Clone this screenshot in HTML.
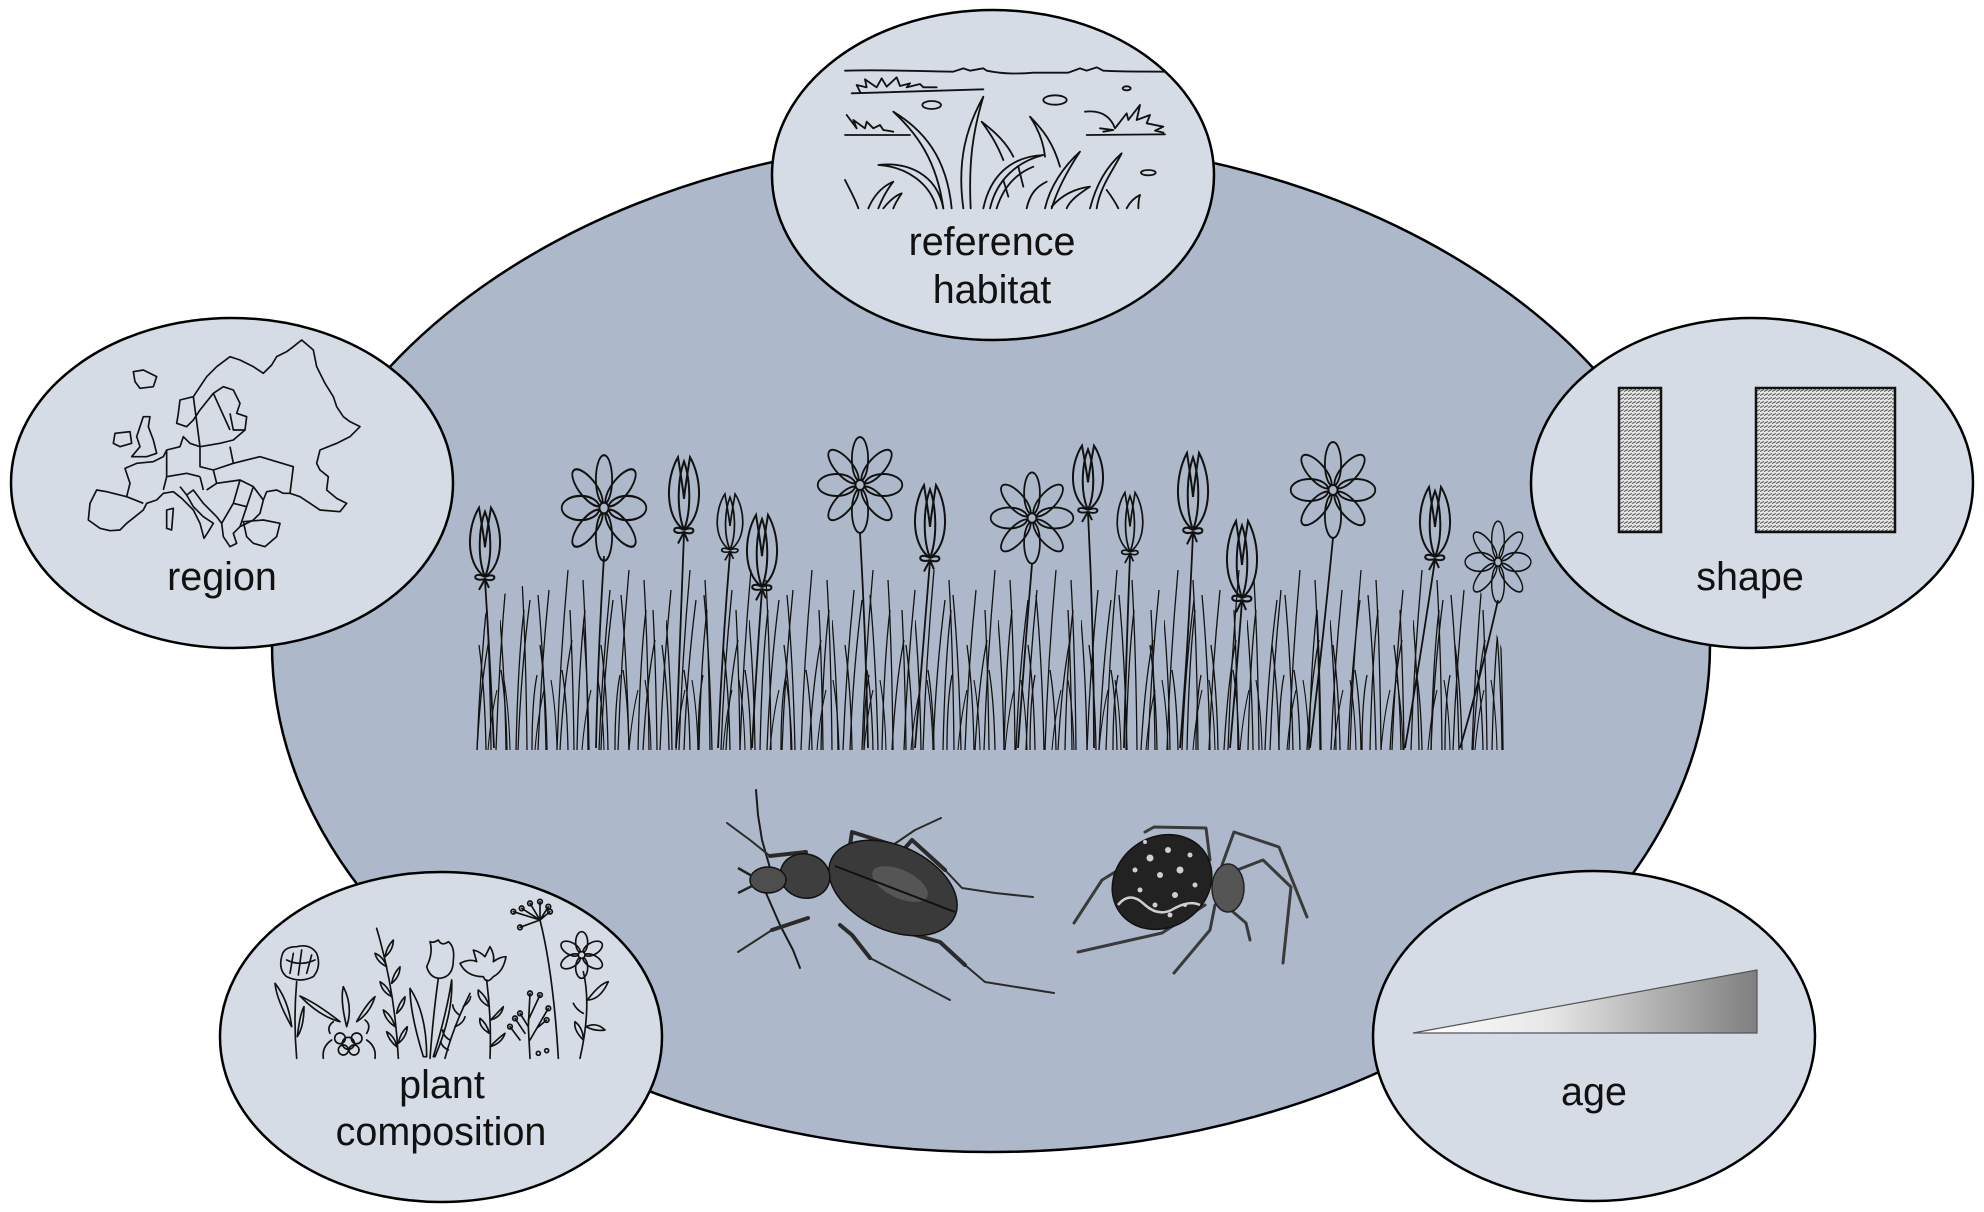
<!DOCTYPE html>
<html><head><meta charset="utf-8"><style>
html,body{margin:0;padding:0;background:#fff}
svg{display:block}
text{font-family:"Liberation Sans",Arial,sans-serif;font-size:39.5px;fill:#111}
</style></head><body>
<svg width="1984" height="1212" viewBox="0 0 1984 1212" xmlns="http://www.w3.org/2000/svg">
<defs>
<pattern id="gA" patternUnits="userSpaceOnUse" x="474" y="540" width="61" height="212">
<g fill="none" stroke="#111" stroke-width="1.3">
<path d="M3 210 Q6 130 14 50"/><path d="M12 210 Q11 150 5 105"/><path d="M22 210 Q25 120 33 30"/><path d="M33 210 Q32 160 27 130"/><path d="M42 210 Q44 120 50 70"/><path d="M53 210 Q52 110 48 40"/>
</g></pattern>
<pattern id="gB" patternUnits="userSpaceOnUse" x="500" y="540" width="83" height="212">
<g fill="none" stroke="#111" stroke-width="1.3">
<path d="M6 210 Q5 140 0 80"/><path d="M18 210 Q21 130 30 60"/><path d="M32 210 Q32 160 37 135"/><path d="M46 210 Q44 120 38 55"/><path d="M60 210 Q64 140 72 100"/><path d="M74 210 Q73 130 70 70"/>
</g></pattern>
<pattern id="gC" patternUnits="userSpaceOnUse" x="480" y="540" width="47" height="212">
<g fill="none" stroke="#111" stroke-width="1.1">
<path d="M8 210 Q11 175 17 150"/><path d="M30 210 Q29 170 24 140"/>
</g></pattern>
<clipPath id="gclip"><polygon points="470,760 470,660 490,600 560,570 640,550 1000,540 1400,548 1480,590 1506,660 1506,760"/></clipPath>
<pattern id="hatch" patternUnits="userSpaceOnUse" width="4" height="4">
<rect width="4" height="4" fill="#e4e4e4"/><path d="M0 3.5 L4 1.5" stroke="#555" stroke-width="1"/>
</pattern>
<linearGradient id="ageg" x1="1413" y1="0" x2="1757" y2="0" gradientUnits="userSpaceOnUse">
<stop offset="0" stop-color="#ffffff"/><stop offset="0.4" stop-color="#e6e6e6"/><stop offset="1" stop-color="#7f7f7f"/>
</linearGradient>
<g id="tulip" fill="none" stroke="#111" stroke-width="2">
<path d="M0 0 C-20 -14 -18 -50 -6 -70 C-3 -52 -1 -40 0 -30"/>
<path d="M0 0 C20 -14 18 -50 6 -70 C3 -52 1 -40 0 -30"/>
<path d="M0 0 C-8 -20 -6 -50 0 -66 C6 -50 8 -20 0 0"/>
<path d="M0 0 C-12 -7 -14 6 0 2 C12 7 13 -6 0 0"/>
<path d="M0 2 L-6 13 M0 2 L4 11"/>
</g>
<g id="daisy" fill="none" stroke="#111" stroke-width="2">
<ellipse cx="0" cy="-26" rx="9" ry="22"/>
<ellipse cx="0" cy="-26" rx="9" ry="22" transform="rotate(45)"/>
<ellipse cx="0" cy="-26" rx="11" ry="21" transform="rotate(90)"/>
<ellipse cx="0" cy="-26" rx="9" ry="22" transform="rotate(135)"/>
<ellipse cx="0" cy="-26" rx="9" ry="22" transform="rotate(180)"/>
<ellipse cx="0" cy="-26" rx="9" ry="22" transform="rotate(225)"/>
<ellipse cx="0" cy="-26" rx="11" ry="21" transform="rotate(270)"/>
<ellipse cx="0" cy="-26" rx="9" ry="22" transform="rotate(315)"/>
<circle cx="0" cy="0" r="5" fill="#adb9ca"/>
</g>
</defs>

<rect width="1984" height="1212" fill="#fff"/>

<ellipse cx="991" cy="645" rx="719" ry="507" fill="#ADB9CA" stroke="#000" stroke-width="2.5"/>

<g clip-path="url(#gclip)">
<rect x="470" y="540" width="1036" height="214" fill="url(#gA)"/>
<rect x="470" y="540" width="1036" height="214" fill="url(#gB)"/>
<rect x="470" y="540" width="1036" height="214" fill="url(#gC)"/>
</g>

<g fill="none" stroke="#111" stroke-width="1.8">
<path d="M485 580 Q490 660 494 748"/>
<path d="M604 556 Q598 650 596 748"/>
<path d="M684 533 Q680 640 676 748"/>
<path d="M730 553 Q722 650 718 748"/>
<path d="M762 590 Q756 670 752 748"/>
<path d="M860 533 Q866 640 868 748"/>
<path d="M930 561 Q922 660 915 748"/>
<path d="M1032 564 Q1024 660 1018 748"/>
<path d="M1088 513 Q1094 630 1094 748"/>
<path d="M1130 555 Q1126 660 1124 748"/>
<path d="M1193 533 Q1188 650 1180 748"/>
<path d="M1242 601 Q1236 680 1230 748"/>
<path d="M1333 538 Q1322 650 1310 748"/>
<path d="M1435 560 Q1420 660 1405 748"/>
<path d="M1498 600 Q1480 680 1460 748"/>
</g>

<use href="#tulip" transform="translate(485,577) scale(1,0.99)"/>
<use href="#tulip" transform="translate(684,530) scale(1,1.04)"/>
<use href="#tulip" transform="translate(730,550) scale(0.85,0.8)"/>
<use href="#tulip" transform="translate(762,587) scale(1,1.03)"/>
<use href="#tulip" transform="translate(930,558) scale(1,1.04)"/>
<use href="#tulip" transform="translate(1088,510) scale(1,0.92)"/>
<use href="#tulip" transform="translate(1130,552) scale(0.85,0.85)"/>
<use href="#tulip" transform="translate(1193,530) scale(1,1.1)"/>
<use href="#tulip" transform="translate(1242,598) scale(1,1.1)"/>
<use href="#tulip" transform="translate(1435,557) scale(1,1)"/>
<use href="#daisy" transform="translate(604,508) scale(0.9,1.1)"/>
<use href="#daisy" transform="translate(860,485) scale(0.9,1.0)"/>
<use href="#daisy" transform="translate(1032,518) scale(0.88,0.95)"/>
<use href="#daisy" transform="translate(1333,490) scale(0.9,1.0)"/>
<use href="#daisy" transform="translate(1498,562) scale(0.7,0.85)"/>

<!-- beetle -->
<g stroke-linecap="round" stroke-linejoin="round" fill="none">
<g stroke="#1a1a1a" stroke-width="2">
<path d="M770 868 L762 840 L758 815 L756 790"/>
<path d="M766 893 L780 925 L793 950 L800 968"/>
</g>
<g stroke="#2a2a2a" stroke-width="4">
<path d="M806 852 L770 856"/><path d="M850 845 L852 832 L893 845"/><path d="M905 848 L912 840 L945 870"/>
<path d="M808 918 L772 930"/><path d="M840 925 L852 935 L870 958"/><path d="M880 925 L940 942 L965 965"/>
</g>
<g stroke="#2a2a2a" stroke-width="2">
<path d="M770 856 L750 840 L727 823"/><path d="M893 845 L915 830 L941 818"/><path d="M945 870 L962 888 L995 893 L1033 897"/>
<path d="M772 930 L738 952"/><path d="M870 958 L893 970 L950 1000"/><path d="M965 965 L985 982 L1054 993"/>
</g>
</g>
<g stroke="#111" stroke-width="1.5">
<ellipse cx="893" cy="888" rx="68" ry="42" transform="rotate(25 893 888)" fill="#3a3a3a"/>
<ellipse cx="805" cy="876" rx="25" ry="22" transform="rotate(15 805 876)" fill="#3e3e3e"/>
<ellipse cx="768" cy="880" rx="18" ry="13" fill="#4e4e4e"/>
</g>
<ellipse cx="900" cy="884" rx="30" ry="14" transform="rotate(25 900 884)" fill="#707070" opacity="0.5"/>
<path d="M835 866 L955 912" stroke="#111" stroke-width="2" fill="none"/>
<path d="M752 876 L738 868 M752 886 L738 893" stroke="#222" stroke-width="2.5" fill="none"/>

<!-- spider -->
<g stroke="#3a3a3a" stroke-width="3" fill="none" stroke-linecap="round" stroke-linejoin="round">
<path d="M1210 860 L1206 828 L1154 827 L1145 832"/>
<path d="M1222 865 L1234 832 L1279 847 L1307 917"/>
<path d="M1232 872 L1263 860 L1291 887 L1283 963"/>
<path d="M1225 905 L1246 923 L1250 940"/>
<path d="M1215 905 L1210 930 L1174 973"/>
<path d="M1205 905 L1162 933 L1078 952"/>
<path d="M1138 858 L1102 880 L1074 923"/>
</g>
<ellipse cx="1228" cy="888" rx="16" ry="24" fill="#555" stroke="#222" stroke-width="1.5"/>
<ellipse cx="1162" cy="882" rx="52" ry="45" transform="rotate(-35 1162 882)" fill="#222" stroke="#111" stroke-width="1.5"/>
<g fill="#cfcfcf">
<circle cx="1150" cy="858" r="3.5"/><circle cx="1168" cy="850" r="3"/><circle cx="1180" cy="870" r="3.5"/><circle cx="1160" cy="875" r="3"/>
<circle cx="1140" cy="890" r="2.5"/><circle cx="1175" cy="895" r="3"/><circle cx="1190" cy="855" r="2.5"/><circle cx="1155" cy="905" r="2.5"/>
<circle cx="1195" cy="885" r="2.5"/><circle cx="1135" cy="870" r="2.5"/><circle cx="1170" cy="915" r="2.5"/><circle cx="1185" cy="905" r="2"/><circle cx="1145" cy="842" r="2"/>
</g>
<path d="M1118 905 Q1130 890 1145 905 Q1160 918 1175 908 Q1190 900 1200 905" stroke="#cfcfcf" stroke-width="2.5" fill="none"/>

<ellipse cx="993" cy="175" rx="221" ry="165" fill="#D6DCE5" stroke="#000" stroke-width="2.5"/>
<ellipse cx="232" cy="483" rx="221" ry="165" fill="#D6DCE5" stroke="#000" stroke-width="2.5"/>
<ellipse cx="1752" cy="483" rx="221" ry="165" fill="#D6DCE5" stroke="#000" stroke-width="2.5"/>
<ellipse cx="441" cy="1037" rx="221" ry="165" fill="#D6DCE5" stroke="#000" stroke-width="2.5"/>
<ellipse cx="1594" cy="1036" rx="221" ry="165" fill="#D6DCE5" stroke="#000" stroke-width="2.5"/>

<g transform="translate(750,0) scale(0.33333)" fill="none" stroke="#111" stroke-width="5.5" stroke-linejoin="round" stroke-linecap="round">
<path d="M285 212 C400 208 500 214 610 215 L640 205 L660 212 L700 205 L710 212 C760 222 800 222 850 218 L955 218 L990 205 L1010 212 L1040 202 L1060 212 C1120 215 1180 215 1245 215"/>
<path d="M305 280 L700 268"/>
<path d="M330 275 L320 255 L350 262 L345 238 L380 262 L395 235 L410 260 L440 232 L450 258 L480 250 L470 262 L510 252 L520 262 L560 262"/>
<path d="M285 405 L480 405"/>
<path d="M290 345 L320 385 L310 360 L345 385 L350 365 L370 385 L390 375 L400 390 L430 395"/>
<path d="M1010 405 L1245 403"/>
<path d="M1005 335 C1050 330 1080 345 1095 385 L1130 340 L1135 360 L1170 315 L1160 360 L1200 345 L1190 370 L1240 380 L1215 392 L1240 398"/>
<path d="M1050 385 L1090 390 L1060 395"/>
<ellipse cx="545" cy="315" rx="28" ry="12"/><ellipse cx="915" cy="300" rx="35" ry="14"/><ellipse cx="1130" cy="265" rx="12" ry="6"/><ellipse cx="1195" cy="518" rx="22" ry="8"/>
<path d="M560 625 C540 550 470 500 385 495 C470 485 560 520 580 625"/>
<path d="M580 625 C560 480 500 400 430 335 C520 390 590 470 605 625"/>
<path d="M640 625 C620 480 650 380 700 290 C670 390 655 480 662 625"/>
<path d="M760 480 C740 430 720 400 695 365 C740 400 770 430 790 470"/>
<path d="M700 625 C720 530 780 470 880 465 C800 485 740 540 720 625"/>
<path d="M760 540 L775 590 M805 500 L820 560"/>
<path d="M885 470 C880 420 860 380 840 350 C880 390 910 430 930 500"/>
<path d="M885 625 C900 560 940 500 990 455 C960 500 925 560 905 625"/>
<path d="M1020 625 C1040 550 1070 500 1115 460 C1090 510 1050 560 1040 625"/>
<path d="M905 620 C940 580 980 565 1020 560 C990 580 960 600 950 625"/>
<path d="M285 540 C300 570 315 595 325 625"/>
<path d="M355 625 C370 590 395 560 430 545 C410 570 395 600 385 625"/>
<path d="M400 625 C420 600 440 585 455 580 C445 595 435 610 430 625"/>
<path d="M1070 570 C1085 590 1095 605 1105 625"/>
<path d="M1130 625 C1140 605 1155 592 1170 585 C1165 600 1165 615 1165 625"/>
<path d="M830 625 C840 580 860 560 890 545"/>
<path d="M740 625 C760 560 800 520 850 500"/>
</g>

<g transform="translate(0,290) scale(0.33333)" fill="none" stroke="#111" stroke-width="5" stroke-linejoin="round">
<path d="M300 715 L330 722 L360 720 L380 700 L405 680 L430 660 L440 640 L470 630 L490 610 L520 605 L545 625 L580 660 L600 700 L612 745 L625 725 L640 700 L610 680 L580 650 L560 615 L580 600 L610 640 L650 680 L665 700 L670 740 L690 770 L710 760 L700 730 L720 710 L740 700 L760 690 L780 670 L790 630 L800 605 L830 600 L850 610 L870 610 L900 620 L930 640 L960 660 L1020 665 L1040 640 L1010 625 L980 600 L985 560 L960 540 L950 520 L960 480 L1010 460 L1050 440 L1080 410 L1050 395 L1030 380 L1010 350 L1000 320 L975 280 L950 230 L940 180 L905 150 L880 170 L860 185 L830 200 L815 225 L800 240 L790 250 L760 230 L720 210 L690 200 L650 230 L620 260 L600 290 L580 320 L540 330 L535 370 L530 400 L560 410 L580 390 L600 360 L640 310 L670 290 L700 300 L720 340 L710 370 L740 380 L735 420 L700 450 L660 460 L600 470 L570 460 L550 440 L540 470 L500 480 L490 500 L460 515 L410 520 L375 535 L390 580 L380 620 L320 605 L290 600 L270 640 L265 690 Z"/>
<path d="M430 380 L450 380 L445 410 L460 450 L470 490 L440 500 L395 500 L420 470 L410 440 L420 410 Z"/>
<path d="M345 430 L390 425 L395 460 L360 470 L340 460 Z"/>
<path d="M400 245 L430 240 L470 260 L460 290 L420 295 L405 275 Z"/>
<path d="M500 660 L520 655 L515 720 L500 715 Z"/>
<path d="M730 695 L790 690 L840 700 L830 740 L795 770 L760 760 L740 740 Z"/>
<path d="M380 620 L430 640 M500 480 L500 560 L490 600 M500 560 L560 550 L600 560 M600 470 L600 530 L640 540 L700 520 L690 470 M700 520 L780 500 L880 530 L870 610 M640 540 L650 580 L620 600 M650 580 L720 570 L760 590 L790 630 M720 570 L700 640 L665 700 M760 590 L740 650 L720 710 M600 560 L610 600 M690 370 L700 420 L735 420 M640 310 L690 420 M580 320 L600 470 M540 590 L560 615 M700 640 L740 650"/>
</g>

<rect x="1619" y="388" width="42" height="144" fill="url(#hatch)" stroke="#111" stroke-width="2.5"/>
<rect x="1756" y="388" width="139" height="144" fill="url(#hatch)" stroke="#111" stroke-width="2.5"/>

<polygon points="1413,1033 1757,970 1757,1033" fill="url(#ageg)" stroke="#555" stroke-width="1.2"/>

<g transform="translate(200,840) scale(0.33333)" fill="none" stroke="#111" stroke-width="5" stroke-linejoin="round" stroke-linecap="round">
<path d="M245 350 Q250 320 290 320 Q330 310 350 340 Q365 380 340 410 Q300 430 260 410 Q235 390 245 350 Z"/>
<path d="M270 400 L280 340 M295 405 L305 330 M320 400 L335 345 M260 360 Q300 380 345 360"/>
<path d="M290 425 Q280 540 290 655"/>
<path d="M275 560 Q230 480 225 430 Q265 480 275 560 Z"/>
<path d="M292 590 Q300 520 312 500 Q312 560 292 590 Z"/>
<circle cx="445" cy="610" r="18"/><circle cx="420" cy="595" r="16"/><circle cx="470" cy="595" r="16"/><circle cx="430" cy="630" r="15"/><circle cx="462" cy="630" r="15"/>
<path d="M420 545 Q350 490 300 468 Q360 530 420 545 Z"/>
<path d="M470 545 Q500 490 525 470 Q510 520 470 545 Z"/>
<path d="M440 560 Q420 480 430 440 Q460 500 440 560 Z"/>
<path d="M370 655 Q365 620 395 600 M525 655 Q530 620 500 600 M390 580 Q380 560 400 545 M500 580 Q515 555 495 540"/>
<path d="M595 655 Q585 450 530 265"/>
<path d="M585 560 Q555 540 550 510 Q575 525 585 560 Z M590 520 Q615 500 615 470 Q595 490 590 520 Z M575 470 Q545 455 540 425 Q565 440 575 470 Z M575 430 Q600 410 600 380 Q580 400 575 430 Z M560 380 Q530 365 525 340 Q550 350 560 380 Z M555 350 Q580 330 580 300 Q560 320 555 350 Z M595 610 Q620 590 622 560 Q600 580 595 610 Z M590 620 Q565 600 560 575 Q585 590 590 620 Z"/>
<path d="M690 305 Q700 340 680 380 Q690 415 720 415 Q760 410 760 360 Q765 320 745 305 Q725 320 715 300 Q700 310 690 305 Z"/>
<path d="M715 415 Q700 520 690 655"/>
<path d="M670 650 Q630 520 630 445 Q680 520 680 650 Z"/>
<path d="M700 650 Q740 520 755 420 Q760 520 705 650 Z"/>
<path d="M735 655 Q760 560 810 460"/>
<path d="M750 600 Q730 590 728 570 M765 560 Q790 550 795 530 M778 525 Q760 512 758 495 M790 500 Q810 485 812 470 M745 630 Q725 620 722 605"/>
<path d="M780 370 Q810 355 830 365 L820 330 Q840 335 855 350 L870 320 Q885 345 880 365 Q900 350 918 350 Q910 395 880 410 Q860 435 850 410 Q800 410 780 370 Z"/>
<path d="M860 420 Q875 540 870 655"/>
<path d="M868 500 Q830 480 835 450 Q860 470 868 500 Z M872 540 Q900 510 910 500 Q905 530 872 540 Z M868 580 Q835 560 840 535 Q860 550 868 580 Z M870 620 Q900 590 915 580 Q905 610 870 620 Z"/>
<path d="M990 655 L985 560 L960 520 M985 560 L990 460 M985 540 L1020 465 M990 600 L1045 505 M1010 565 L1040 540 M960 600 L930 560 M975 580 L945 535"/>
<circle cx="960" cy="520" r="7"/><circle cx="990" cy="460" r="7"/><circle cx="1020" cy="465" r="7"/><circle cx="1045" cy="505" r="7"/><circle cx="1040" cy="540" r="7"/><circle cx="930" cy="560" r="7"/><circle cx="945" cy="535" r="7"/><circle cx="1015" cy="640" r="6"/><circle cx="1040" cy="632" r="6"/>
<path d="M1075 655 Q1060 400 1020 240"/>
<path d="M1020 240 L940 215 M1020 240 L965 205 M1020 240 L990 190 M1020 240 L1020 185 M1020 240 L1045 200 M1020 240 L1050 215 M1020 240 L960 262 M1020 240 L1030 228"/>
<circle cx="940" cy="215" r="7"/><circle cx="965" cy="205" r="7"/><circle cx="990" cy="190" r="7"/><circle cx="1020" cy="185" r="7"/><circle cx="1045" cy="200" r="7"/><circle cx="1050" cy="215" r="7"/><circle cx="960" cy="262" r="7"/>
<g transform="translate(1145,345)">
<ellipse cx="0" cy="-38" rx="18" ry="32"/><ellipse cx="0" cy="-38" rx="18" ry="32" transform="rotate(60)"/><ellipse cx="0" cy="-38" rx="18" ry="32" transform="rotate(120)"/><ellipse cx="0" cy="-38" rx="18" ry="32" transform="rotate(180)"/><ellipse cx="0" cy="-38" rx="18" ry="32" transform="rotate(240)"/><ellipse cx="0" cy="-38" rx="18" ry="32" transform="rotate(300)"/>
<circle cx="0" cy="0" r="10" fill="#D6DCE5"/>
</g>
<path d="M1150 395 Q1175 500 1140 655"/>
<path d="M1162 480 Q1200 430 1225 425 Q1200 480 1162 480 Z"/>
<path d="M1150 600 Q1120 570 1125 545 Q1150 565 1150 600 Z"/>
<path d="M1158 560 Q1190 545 1215 570 Q1185 575 1158 560 Z"/>
<path d="M1150 520 Q1130 510 1120 490"/>
</g>

<text x="992" y="255" text-anchor="middle">reference</text>
<text x="992" y="303" text-anchor="middle">habitat</text>
<text x="222" y="590" text-anchor="middle">region</text>
<text x="1750" y="590" text-anchor="middle">shape</text>
<text x="442" y="1098" text-anchor="middle">plant</text>
<text x="441" y="1145" text-anchor="middle">composition</text>
<text x="1594" y="1105" text-anchor="middle">age</text>
</svg>
</body></html>
